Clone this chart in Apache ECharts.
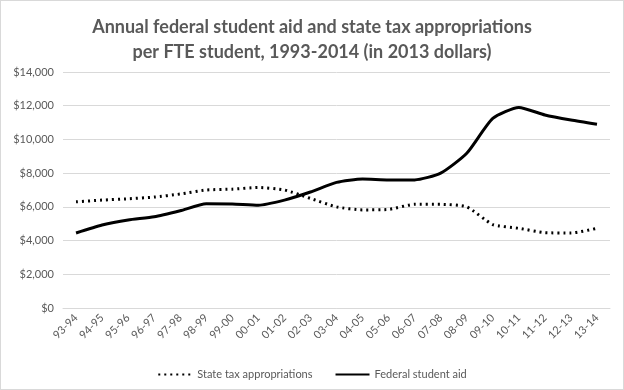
<!DOCTYPE html>
<html><head><meta charset="utf-8">
<script src="https://cdn.jsdelivr.net/npm/echarts@6/dist/echarts.min.js"></script>
<style>html,body{margin:0;padding:0;background:#fff}#c{width:622px;height:388px;border:1px solid #d9d9d9}</style>
</head><body><div id="c"></div>
<script>
var categories = ['93-94','94-95','95-96','96-97','97-98','98-99','99-00','00-01','01-02','02-03','03-04','04-05','05-06','06-07','07-08','08-09','09-10','10-11','11-12','12-13','13-14'];
var stateTax = [6300,6400,6480,6580,6760,7000,7050,7150,7000,6500,6000,5820,5850,6150,6150,6000,4950,4730,4470,4450,4730];
var federalAid = [4450,4920,5220,5410,5770,6180,6170,6100,6400,6880,7450,7650,7600,7600,8000,9180,11250,11900,11450,11150,10900];
var yTicks = {min:0, max:14000, interval:2000};
var chart = echarts.init(document.getElementById('c'));
var font = 'Lato';
chart.setOption({
  animation:false,
  title:{text:'Annual federal student aid and state tax appropriations\nper FTE student, 1993-2014 (in 2013 dollars)',left:'center',top:9,
    textStyle:{fontFamily:font,fontSize:18,fontWeight:'bold',color:'#595959',lineHeight:25}},
  grid:{left:62,right:13,top:71,bottom:81},
  xAxis:{type:'category',data:categories,boundaryGap:true,
    axisLine:{lineStyle:{color:'#d9d9d9'}},axisTick:{show:false},
    axisLabel:{rotate:45,color:'#595959',fontFamily:font,fontSize:11,margin:8,interval:0}},
  yAxis:{type:'value',min:yTicks.min,max:yTicks.max,interval:yTicks.interval,
    axisLine:{show:false},axisTick:{show:false},
    splitLine:{lineStyle:{color:'#d9d9d9'}},
    axisLabel:{color:'#595959',fontFamily:font,fontSize:11,margin:9,
      formatter:function(v){return '$'+v.toLocaleString('en-US');}}},
  legend:{top:363,left:'center',itemGap:22,itemWidth:34,itemHeight:12,
    itemStyle:{opacity:0},
    textStyle:{color:'#595959',fontFamily:font,fontSize:11},
    data:['State tax appropriations','Federal student aid']},
  series:[
    {name:'State tax appropriations',type:'line',data:stateTax,smooth:0.2,symbol:'none',
      lineStyle:{color:'#000',width:3,type:[2,4],cap:'butt'},itemStyle:{color:'#000'}},
    {name:'Federal student aid',type:'line',data:federalAid,smooth:0.2,symbol:'none',
      lineStyle:{color:'#000',width:3},itemStyle:{color:'#000'}}
  ]
});
</script></body></html>
